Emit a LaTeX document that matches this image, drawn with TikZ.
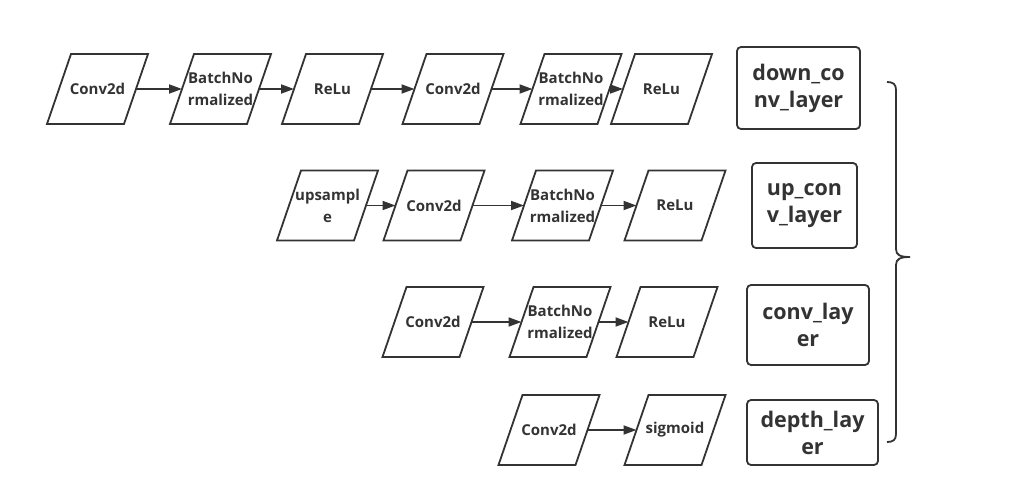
\documentclass[tikz,border=0pt]{standalone}
\usepackage{fontspec}
\setmainfont{Open Sans}
\usetikzlibrary{arrows.meta}
\definecolor{ink}{HTML}{333333}
\newcommand\parabox[3]{%
  \node[ptext] (#1) at (#2) {#3};
  \draw[pline] ([xshift=12pt]#1.north west) -- ([xshift=12pt]#1.north east)
    -- ([xshift=-12pt]#1.south east) -- ([xshift=-12pt]#1.south west) -- cycle;}
\begin{document}
\begin{tikzpicture}[x=1pt,y=-1pt,
  ptext/.style={rectangle, draw=none, minimum width=77pt, minimum height=70pt,
    inner sep=0pt, outer sep=0pt, text=ink, align=center,
    font=\fontsize{15}{22}\selectfont\bfseries},
  pline/.style={draw=ink, line width=1.8pt, line join=miter},
  layer/.style={draw=ink, line width=1.8pt, rounded corners=4pt, inner sep=0pt,
    text=ink, align=center, font=\fontsize{21.5}{27}\selectfont\bfseries},
  arr/.style={-{Triangle[length=13pt,width=9pt]}, line width=1.8pt, draw=ink}]
\useasboundingbox (0,0) rectangle (1009,497);
% row 1
\parabox{c1}{97.5,89}{Conv2d}
\parabox{b1}{220.5,89}{BatchNo\\rmalized}
\parabox{r1}{332.5,89}{ReLu}
\parabox{c2}{453,89}{Conv2d}
\parabox{b2}{571,89}{BatchNo\\rmalized}
\parabox{r2}{661.5,89}{ReLu}
\draw[arr] (c1.east) -- (b1.west);
\draw[arr] (b1.east) -- (r1.west);
\draw[arr] (r1.east) -- (c2.west);
\draw[arr] (c2.east) -- (b2.west);
\draw[arr] (b2.east) -- (r2.west);
% row 2
\parabox{u3}{327.5,205.5}{upsampl\\e}
\parabox{c3}{434,205.5}{Conv2d}
\parabox{b3}{562.5,205.5}{BatchNo\\rmalized}
\parabox{r3}{675,205.5}{ReLu}
\draw[arr] (u3.east) -- (c3.west);
\draw[arr] (c3.east) -- (b3.west);
\draw[arr] (b3.east) -- (r3.west);
% row 3
\parabox{c4}{433,322}{Conv2d}
\parabox{b4}{560,322}{BatchNo\\rmalized}
\parabox{r4}{667,322}{ReLu}
\draw[arr] (c4.east) -- (b4.west);
\draw[arr] (b4.east) -- (r4.west);
% row 4
\parabox{c5}{549,430}{Conv2d}
\parabox{s5}{675,430}{sigmoid}
\draw[arr] (c5.east) -- (s5.west);
% layer boxes
\node[layer, minimum width=123pt, minimum height=82pt] (L1) at (798.5,88) {down\_co\\nv\_layer};
\node[layer, minimum width=105pt, minimum height=85pt] (L2) at (804.5,205.5) {up\_con\\v\_layer};
\node[layer, minimum width=122pt, minimum height=80pt] (L3) at (808,325) {conv\_lay\\er};
\node[layer, minimum width=131pt, minimum height=65pt] (L4) at (812.5,432.5) {depth\_lay\\er};
% brace
\draw[ink, line width=1.8pt]
  (887,82) .. controls (893,82) and (896,84) .. (896,90)
  -- (896,249) .. controls (896,255) and (900,257) .. (910,257)
  .. controls (900,257) and (896,259) .. (896,265)
  -- (896,434) .. controls (896,440) and (893,442) .. (887,442);
\end{tikzpicture}
\end{document}
